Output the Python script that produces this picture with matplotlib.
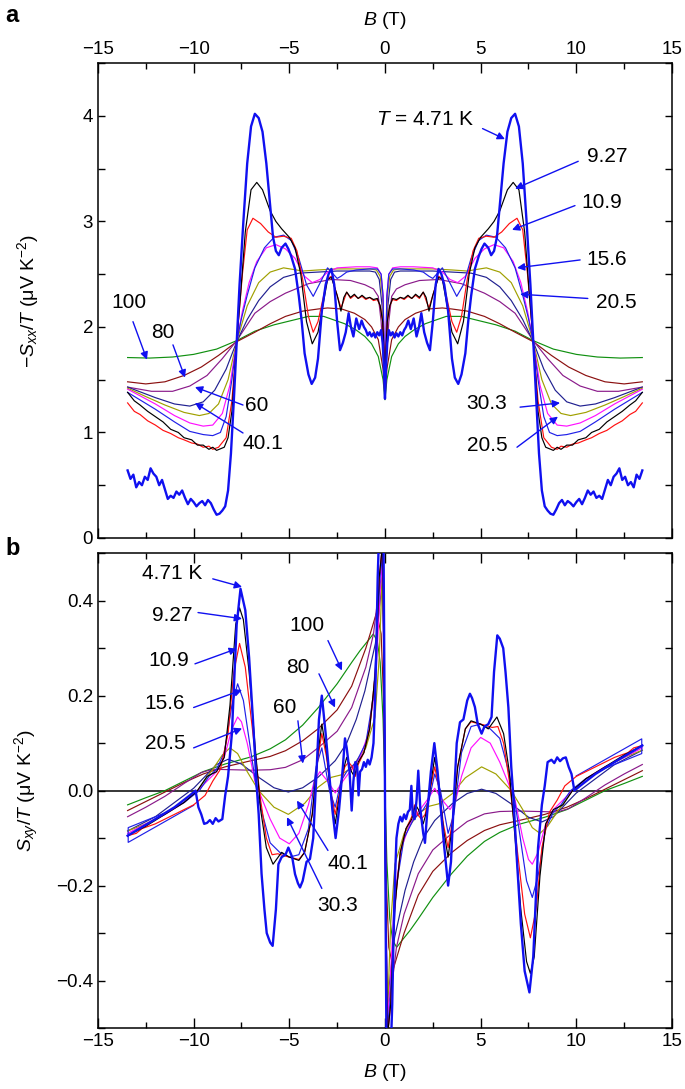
import numpy as np
import matplotlib
matplotlib.use('Agg')
import matplotlib.pyplot as plt
from matplotlib.ticker import MultipleLocator

plt.rcParams['font.family'] = ['Liberation Sans', 'DejaVu Sans']
plt.rcParams['mathtext.fontset'] = 'custom'
plt.rcParams['mathtext.rm'] = 'Liberation Sans'
plt.rcParams['mathtext.it'] = 'Liberation Sans:italic'
plt.rcParams['mathtext.bf'] = 'Liberation Sans:bold'

# ---------------- data: (B, value) for B >= 0 ----------------
# Panel a: -Sxx/T (symmetric in B)
sxx_100 = [(0, 1.31), (0.1, 1.5), (0.35, 1.72), (0.7, 1.84), (1.05, 1.91), (1.5, 1.97), (2.1, 2.03),
           (3.2, 2.10), (4.0, 2.10), (4.9, 2.06), (5.8, 2.02), (6.8, 1.96), (7.75, 1.87), (8.8, 1.79),
           (10, 1.74), (11.1, 1.715), (12.3, 1.705), (13.45, 1.71)]
sxx_80 = [(0, 1.33), (0.1, 1.6), (0.35, 1.88), (0.7, 2.0), (1.05, 2.07), (1.6, 2.13), (2.26, 2.17),
          (3.0, 2.18), (3.5, 2.17), (4.3, 2.15), (5.2, 2.10), (6.0, 2.03), (6.8, 1.95), (7.75, 1.86),
          (8.7, 1.73), (9.6, 1.62), (10.5, 1.54), (11.5, 1.48), (12.5, 1.46), (13.45, 1.48)]
sxx_60 = [(0, 1.33), (0.08, 1.7), (0.2, 2.05), (0.35, 2.29), (0.6, 2.36), (1.05, 2.40), (1.8, 2.44),
          (2.8, 2.45), (4.0, 2.41), (5.2, 2.32), (6.0, 2.24), (6.8, 2.13), (7.75, 1.87), (8.5, 1.70),
          (9.3, 1.54), (10.2, 1.44), (11.1, 1.39), (12.2, 1.39), (13.45, 1.43)]
sxx_40 = [(0, 1.33), (0.06, 1.75), (0.15, 2.2), (0.3, 2.45), (0.5, 2.52), (0.8, 2.53), (1.5, 2.53),
          (2.5, 2.53), (3.5, 2.52), (4.5, 2.51), (5.3, 2.47), (6.0, 2.38), (6.6, 2.25), (7.2, 2.07),
          (7.75, 1.86), (8.3, 1.60), (8.9, 1.40), (9.5, 1.29), (10.2, 1.25), (11, 1.27), (12, 1.33),
          (13.45, 1.43)]
sxx_30 = [(0, 1.33), (0.05, 1.8), (0.13, 2.3), (0.25, 2.48), (0.45, 2.54), (0.8, 2.55), (1.5, 2.55),
          (2.5, 2.55), (3.5, 2.54), (4.3, 2.53), (5.3, 2.56), (6.0, 2.52), (6.6, 2.42), (7.2, 2.2),
          (7.75, 1.86), (8.2, 1.5), (8.7, 1.27), (9.2, 1.18), (9.7, 1.16), (10.5, 1.19), (11.5, 1.26),
          (12.5, 1.34), (13.45, 1.42)]
sxx_20 = [(0, 1.32), (0.04, 1.8), (0.1, 2.3), (0.2, 2.5), (0.4, 2.56), (0.8, 2.57), (1.5, 2.57),
          (2.5, 2.56), (3.0, 2.52), (3.4, 2.45), (3.8, 2.42), (4.2, 2.48), (4.7, 2.65), (5.2, 2.74),
          (5.7, 2.78), (6.2, 2.75), (6.7, 2.62), (7.1, 2.42), (7.45, 2.15), (7.75, 1.86), (8.1, 1.45),
          (8.5, 1.18), (9.0, 1.07), (9.5, 1.06), (10.2, 1.09), (11, 1.16), (12, 1.27), (13.45, 1.41)]
sxx_15 = [(0, 1.32), (0.04, 1.8), (0.1, 2.3), (0.2, 2.5), (0.4, 2.55), (0.8, 2.55), (1.5, 2.54),
          (2.0, 2.52), (2.3, 2.48), (2.5, 2.46), (2.7, 2.5), (3.0, 2.56), (3.3, 2.45), (3.75, 2.29),
          (4.1, 2.4), (4.5, 2.65), (4.9, 2.82), (5.3, 2.87), (5.8, 2.85), (6.3, 2.75), (6.8, 2.56),
          (7.2, 2.3), (7.5, 2.08), (7.75, 1.86), (8.0, 1.5), (8.3, 1.15), (8.6, 1.0), (9.0, 0.97),
          (9.5, 0.98), (10.2, 1.01), (11, 1.1), (12, 1.22), (13.45, 1.38)]
sxx_10 = [(0, 1.32), (0.05, 1.75), (0.12, 2.05), (0.25, 2.2), (0.4, 2.26), (0.6, 2.25), (0.8, 2.28),
          (1.0, 2.26), (1.2, 2.29), (1.4, 2.27), (1.6, 2.30), (1.8, 2.27), (2.0, 2.33), (2.15, 2.25),
          (2.3, 2.18), (2.5, 2.3), (2.8, 2.48), (3.0, 2.46), (3.2, 2.3), (3.5, 2.05), (3.75, 1.95),
          (4.0, 2.1), (4.3, 2.45), (4.6, 2.72), (4.9, 2.84), (5.3, 2.86), (5.7, 2.85), (6.1, 2.9),
          (6.5, 2.98), (6.9, 3.03), (7.2, 2.92), (7.45, 2.5), (7.75, 1.86), (8.0, 1.3), (8.3, 0.95),
          (8.7, 0.86), (9.0, 0.84), (9.2, 0.87), (9.5, 0.86), (9.8, 0.89), (10.1, 0.9), (10.5, 0.93),
          (10.8, 0.95), (11.2, 0.99), (11.6, 1.02), (12, 1.07), (12.4, 1.11), (12.8, 1.17),
          (13.1, 1.2), (13.45, 1.28)]
sxx_9 = [(0, 1.32), (0.05, 1.75), (0.12, 2.05), (0.25, 2.2), (0.4, 2.27), (0.6, 2.26), (0.8, 2.28),
         (1.0, 2.27), (1.2, 2.3), (1.4, 2.27), (1.6, 2.31), (1.8, 2.28), (2.0, 2.33), (2.15, 2.28),
         (2.3, 2.15), (2.5, 2.3), (2.8, 2.47), (3.0, 2.45), (3.2, 2.25), (3.5, 1.95), (3.8, 1.84),
         (4.1, 2.05), (4.4, 2.5), (4.7, 2.75), (5.0, 2.85), (5.4, 2.93), (5.7, 3.0), (6.0, 3.1),
         (6.4, 3.3), (6.7, 3.37), (7.0, 3.3), (7.3, 2.9), (7.55, 2.3), (7.75, 1.86), (8.0, 1.2),
         (8.2, 0.95), (8.4, 0.86), (8.8, 0.83), (9.0, 0.86), (9.2, 0.84), (9.5, 0.88), (9.8, 0.88),
         (10.1, 0.93), (10.5, 0.95), (10.8, 1.0), (11.2, 1.03), (11.6, 1.1), (12, 1.15),
         (12.4, 1.2), (12.8, 1.26), (13.1, 1.3), (13.45, 1.38)]
sxx_4 = [(0, 1.32), (0.05, 1.6), (0.12, 1.85), (0.2, 1.97), (0.3, 1.92), (0.4, 1.95), (0.5, 1.90),
         (0.6, 1.94), (0.7, 1.91), (0.8, 1.95), (0.9, 1.92), (1.0, 1.97), (1.1, 2.0), (1.22, 2.06),
         (1.35, 1.98), (1.5, 2.08), (1.65, 1.91), (1.78, 2.0), (1.9, 2.13), (2.05, 1.95), (2.2, 1.85),
         (2.35, 1.78), (2.5, 2.05), (2.65, 2.4), (2.8, 2.55), (2.95, 2.5), (3.1, 2.4), (3.3, 2.15),
         (3.5, 1.7), (3.65, 1.52), (3.83, 1.46), (4.0, 1.55), (4.2, 1.75), (4.35, 2.05), (4.5, 2.29),
         (4.7, 2.55), (4.9, 2.67), (5.05, 2.74), (5.2, 2.79), (5.4, 2.75), (5.55, 2.68), (5.7, 2.72),
         (5.85, 2.85), (6.0, 3.15), (6.2, 3.55), (6.4, 3.85), (6.6, 3.98), (6.8, 4.02), (7.0, 3.9),
         (7.2, 3.55), (7.4, 3.0), (7.6, 2.4), (7.75, 1.86), (7.9, 1.3), (8.05, 0.8), (8.2, 0.45),
         (8.35, 0.3), (8.5, 0.26), (8.65, 0.23), (8.8, 0.22), (8.95, 0.27), (9.1, 0.33), (9.25, 0.36),
         (9.4, 0.31), (9.55, 0.35), (9.7, 0.33), (9.85, 0.30), (10.0, 0.34), (10.15, 0.37),
         (10.3, 0.32), (10.45, 0.38), (10.6, 0.45), (10.75, 0.41), (10.9, 0.44), (11.05, 0.38),
         (11.2, 0.40), (11.35, 0.37), (11.5, 0.46), (11.65, 0.55), (11.8, 0.50), (11.95, 0.58),
         (12.1, 0.61), (12.25, 0.66), (12.4, 0.55), (12.55, 0.58), (12.7, 0.50), (12.85, 0.53),
         (13.0, 0.48), (13.15, 0.60), (13.3, 0.56), (13.45, 0.64)]

# Panel b: Sxy/T (antisymmetric in B)
sxy_100 = [(0, 0), (0.1, -0.15), (0.25, -0.27), (0.4, -0.315), (0.61, -0.33), (0.9, -0.315),
           (1.3, -0.295), (1.74, -0.27), (2.5, -0.225), (3.48, -0.175), (4.3, -0.138), (5.2, -0.107),
           (6.0, -0.088), (7.0, -0.071), (8.36, -0.056), (9.5, -0.04), (10.5, -0.02), (11.5, 0.0),
           (12.5, 0.015), (13.45, 0.03)]
sxy_80 = [(0, 0), (0.08, -0.2), (0.2, -0.33), (0.44, -0.375), (0.7, -0.34), (1.0, -0.3), (1.74, -0.22),
          (2.5, -0.17), (3.5, -0.13), (4.3, -0.105), (5.2, -0.084), (6.0, -0.072), (7.0, -0.063),
          (8.36, -0.05), (9.5, -0.035), (10.5, -0.017), (11.5, 0.003), (12.5, 0.023), (13.45, 0.042)]
sxy_60 = [(0, 0), (0.05, -0.25), (0.15, -0.45), (0.3, -0.43), (0.6, -0.33), (1.0, -0.26),
          (1.74, -0.175), (2.5, -0.125), (3.5, -0.09), (4.3, -0.065), (5.2, -0.049), (6.0, -0.044),
          (7.0, -0.043), (8.0, -0.044), (9.0, -0.045), (9.6, -0.038), (10.5, -0.015), (11.5, 0.012),
          (12.5, 0.035), (13.45, 0.055)]
sxy_40 = [(0, 0), (0.04, -0.25), (0.12, -0.45), (0.25, -0.4), (0.5, -0.31), (1.05, -0.21),
          (1.5, -0.15), (2.0, -0.1), (2.6, -0.063), (3.5, -0.028), (4.3, -0.006), (5.05, 0.003),
          (5.8, -0.006), (6.6, -0.028), (7.5, -0.056), (8.2, -0.066), (8.8, -0.055), (9.4, -0.03),
          (10.0, -0.005), (11, 0.025), (12, 0.055), (13.45, 0.085)]
sxy_30 = [(0, 0), (0.06, -0.35), (0.15, -0.45), (0.3, -0.28), (0.52, -0.155), (1.0, -0.09),
          (1.74, -0.049), (2.3, -0.033), (2.8, -0.028), (3.5, -0.007), (4.2, 0.027), (5.05, 0.05),
          (5.8, 0.035), (6.6, 0.0), (7.2, -0.04), (7.7, -0.078), (8.1, -0.09), (8.5, -0.075),
          (9.0, -0.045), (9.8, 0.0), (10.5, 0.025), (11.5, 0.05), (12.5, 0.07), (13.45, 0.085)]
sxy_20 = [(0, 0), (0.05, -0.35), (0.1, -0.5), (0.25, -0.42), (0.5, -0.22), (0.87, -0.12),
          (1.3, -0.07), (1.74, -0.045), (2.2, -0.02), (2.6, 0.005), (3.0, -0.02), (3.4, -0.04),
          (3.7, -0.02), (4.0, 0.03), (4.5, 0.09), (5.0, 0.112), (5.5, 0.1), (6.0, 0.06), (6.5, 0.01),
          (6.8, -0.02), (7.2, -0.1), (7.5, -0.145), (7.7, -0.155), (8.0, -0.13), (8.4, -0.07),
          (8.8, -0.04), (9.3, -0.02), (9.8, 0.0), (10.5, 0.025), (11.5, 0.05), (12.5, 0.07),
          (13.45, 0.09)]
sxy_15 = [(0, 0), (0.08, -0.4), (0.18, -0.5), (0.35, -0.38), (0.6, -0.2), (1.0, -0.1), (1.5, -0.06),
          (2.0, -0.04), (2.3, -0.02), (2.6, 0.035), (2.9, 0.0), (3.3, -0.09), (3.6, -0.05),
          (4.0, 0.08), (4.5, 0.135), (5.0, 0.14), (5.5, 0.13), (6.0, 0.11), (6.4, 0.05), (6.7, 0.0),
          (7.0, -0.08), (7.4, -0.19), (7.7, -0.225), (8.0, -0.18), (8.4, -0.08), (8.8, -0.045),
          (9.2, -0.03), (9.7, 0.0), (10.5, 0.025), (11.5, 0.047), (12.5, 0.063), (13.42, 0.078),
          (13.42, 0.109), (10.0, 0.031)]
sxy_10 = [(0, 0), (0.05, -0.3), (0.12, -0.52), (0.3, -0.45), (0.5, -0.25), (0.8, -0.13),
          (1.1, -0.08), (1.4, -0.055), (1.55, -0.03), (1.7, -0.05), (1.9, -0.06), (2.1, -0.05),
          (2.3, -0.01), (2.6, 0.05), (2.85, 0.0), (3.05, -0.07), (3.3, -0.12), (3.5, -0.07),
          (3.8, 0.05), (4.2, 0.13), (4.5, 0.145), (5.0, 0.14), (5.3, 0.137), (5.6, 0.133),
          (5.9, 0.135), (6.2, 0.1), (6.5, 0.02), (6.9, -0.12), (7.3, -0.26), (7.6, -0.31),
          (7.9, -0.25), (8.2, -0.12), (8.6, -0.045), (9.0, -0.02), (9.4, 0.01), (10, 0.03),
          (11, 0.05), (12, 0.07), (12.7, 0.08), (13.0, 0.09), (13.45, 0.095)]
sxy_9 = [(0, 0), (0.05, -0.3), (0.12, -0.52), (0.3, -0.45), (0.5, -0.25), (0.8, -0.13), (1.1, -0.08),
         (1.4, -0.06), (1.6, -0.03), (1.75, -0.04), (2.0, -0.07), (2.2, -0.04), (2.45, 0.03),
         (2.6, 0.07), (2.8, 0.02), (3.05, -0.08), (3.3, -0.14), (3.5, -0.08), (3.8, 0.05),
         (4.2, 0.13), (4.5, 0.147), (5.0, 0.14), (5.4, 0.13), (5.85, 0.155), (6.2, 0.12),
         (6.5, 0.04), (6.8, -0.1), (7.1, -0.25), (7.4, -0.36), (7.6, -0.385), (7.8, -0.35),
         (8.1, -0.18), (8.4, -0.07), (8.8, -0.04), (9.3, -0.03), (9.8, 0.0), (10.5, 0.025),
         (11.5, 0.05), (12.5, 0.075), (13.45, 0.095)]
sxy_4 = [(0, 0), (0.04, -0.3), (0.08, -0.55), (0.3, -0.55), (0.38, -0.45), (0.45, -0.3), (0.52, -0.19),
         (0.6, -0.1), (0.7, -0.07), (0.8, -0.055), (0.9, -0.065), (1.0, -0.05), (1.1, -0.06),
         (1.2, -0.045), (1.3, -0.04), (1.38, 0.01), (1.45, -0.05), (1.55, -0.06), (1.65, -0.02),
         (1.74, 0.042), (1.85, -0.04), (2.0, -0.09), (2.09, -0.11), (2.2, -0.05), (2.4, 0.04),
         (2.58, 0.10), (2.75, 0.04), (2.9, -0.03), (3.1, -0.12), (3.3, -0.2), (3.45, -0.15),
         (3.6, -0.02), (3.75, 0.1), (3.92, 0.144), (4.1, 0.15), (4.3, 0.19), (4.44, 0.204),
         (4.55, 0.195), (4.7, 0.176), (4.85, 0.14), (5.05, 0.12), (5.2, 0.135), (5.4, 0.14),
         (5.57, 0.155), (5.7, 0.25), (5.87, 0.327), (6.0, 0.32), (6.18, 0.30), (6.3, 0.25),
         (6.45, 0.175), (6.6, 0.05), (6.7, -0.007), (6.9, -0.15), (7.1, -0.28), (7.3, -0.38),
         (7.55, -0.425), (7.75, -0.35), (8.0, -0.12), (8.2, -0.03), (8.35, 0.01), (8.5, 0.06),
         (8.7, 0.065), (8.85, 0.058), (9.0, 0.07), (9.15, 0.062), (9.3, 0.068), (9.45, 0.07),
         (9.6, 0.05), (9.75, 0.035), (9.9, 0.0), (10.2, 0.01), (11, 0.035), (12, 0.06),
         (13.45, 0.095)]

temps = ['4.71', '9.27', '10.9', '15.6', '20.5', '30.3', '40.1', '60', '80', '100']
sxx_data = [sxx_4, sxx_9, sxx_10, sxx_15, sxx_20, sxx_30, sxx_40, sxx_60, sxx_80, sxx_100]
sxy_data = [sxy_4, sxy_9, sxy_10, sxy_15, sxy_20, sxy_30, sxy_40, sxy_60, sxy_80, sxy_100]
colors = ['#1010f0', 'black', '#ff1010', '#2020e8', '#ff10ff', '#a0a000', '#202090', '#8a1a8a',
          '#8b1010', '#109010']
widths = [1.7, 0.85, 0.85, 0.85, 0.85, 0.85, 0.85, 0.85, 0.85, 0.85]


def mirror(pts, sign):
    B = np.array([p[0] for p in pts], dtype=float)
    v = np.array([p[1] for p in pts], dtype=float)
    Bn = -B[::-1]
    vn = sign * v[::-1]
    if B[0] == 0:
        Bn, vn = Bn[:-1], vn[:-1]
    return np.concatenate([Bn, B]), np.concatenate([vn, v])


fig = plt.figure(figsize=(6.85, 10.89), dpi=100)
axa = fig.add_axes([0.143, 0.506, 0.838, 0.436])
axb = fig.add_axes([0.143, 0.056, 0.838, 0.436])

for i in range(len(temps) - 1, -1, -1):
    x, y = mirror(sxx_data[i], 1)
    axa.plot(x, y, color=colors[i], lw=widths[i], zorder=3 + (10 - i) * 0.1)
    x, y = mirror(sxy_data[i], -1)
    axb.plot(x, y, color=colors[i], lw=widths[i], zorder=3 + (10 - i) * 0.1)

axb.axhline(0, color='black', lw=1.1, zorder=2)

for ax in (axa, axb):
    ax.set_xlim(-15, 15)
    ax.xaxis.set_major_locator(MultipleLocator(5))
    ax.xaxis.set_minor_locator(MultipleLocator(2.5))
    for s in ax.spines.values():
        s.set_linewidth(1.1)
    ax.tick_params(which='both', direction='in', top=True, right=True, labelsize=13.5, width=1.0)
    ax.tick_params(axis='x', which='major', length=7)
    ax.tick_params(axis='x', which='minor', length=4.5)
    ax.tick_params(axis='y', which='both', length=5)

axa.set_ylim(0, 4.5)
axa.yaxis.set_major_locator(MultipleLocator(1))
axa.yaxis.set_minor_locator(MultipleLocator(0.5))
axa.tick_params(labeltop=True, labelbottom=False)
axa.xaxis.set_label_position('top')
axa.set_xlabel('$B$ (T)', fontsize=14, labelpad=12)
axa.set_ylabel('$-S_{xx}/T$ (μV K$^{-2}$)', fontsize=14)
axa.yaxis.set_label_coords(-0.10, 0.5)

axb.set_ylim(-0.5, 0.5)
axb.yaxis.set_major_locator(MultipleLocator(0.2))
axb.yaxis.set_minor_locator(MultipleLocator(0.1))
axb.yaxis.set_major_formatter(plt.FuncFormatter(lambda v, p: ('%.1f' % v).replace('-', '\u2212')))
axb.set_xlabel('$B$ (T)', fontsize=14, labelpad=9)
axb.set_ylabel('$S_{xy}/T$ (μV K$^{-2}$)', fontsize=14)
axb.yaxis.set_label_coords(-0.10, 0.5)

arrow = dict(arrowstyle='-|>', color='#1010f0', lw=1.0, mutation_scale=11, shrinkA=0, shrinkB=0)

# panel a annotations: (text, text_xy, arrow_start, arrow_end)
ann_a = [
    ('$T$ = 4.71 K', (2.1, 3.97), (5.1, 3.88), (6.27, 3.78)),
    ('9.27', (11.6, 3.62), (10.1, 3.57), (6.8, 3.31)),
    ('10.9', (11.35, 3.175), (9.93, 3.15), (6.64, 2.92)),
    ('15.6', (11.6, 2.635), (10.2, 2.635), (6.9, 2.56)),
    ('20.5', (12.1, 2.23), (10.6, 2.27), (7.06, 2.31)),
    ('30.3', (5.33, 1.27), (7.06, 1.24), (9.15, 1.28)),
    ('20.5', (5.33, 0.88), (6.9, 0.86), (9.04, 1.15)),
    ('100', (-13.4, 2.23), (-13.17, 2.05), (-12.44, 1.69)),
    ('80', (-11.6, 1.95), (-11.08, 1.83), (-10.45, 1.52)),
    ('60', (-6.7, 1.26), (-7.42, 1.26), (-9.93, 1.43)),
    ('40.1', (-6.4, 0.9), (-7.42, 0.995), (-9.93, 1.28)),
]
for t, pt, a0, a1 in ann_a:
    axa.text(pt[0], pt[1], t, ha='center', va='center', fontsize=15, zorder=6)
    axa.annotate('', xy=a1, xytext=a0, arrowprops=arrow, zorder=6)

ann_b = [
    ('4.71 K', (-11.1, 0.457), (-9.0, 0.446), (-7.47, 0.429)),
    ('9.27', (-11.1, 0.368), (-9.77, 0.375), (-7.47, 0.362)),
    ('10.9', (-11.3, 0.274), (-9.93, 0.267), (-7.74, 0.299)),
    ('15.6', (-11.5, 0.183), (-10.0, 0.175), (-7.47, 0.212)),
    ('20.5', (-11.5, 0.099), (-10.0, 0.09), (-7.47, 0.131)),
    ('100', (-4.08, 0.347), (-2.98, 0.316), (-2.25, 0.253)),
    ('80', (-4.55, 0.259), (-3.45, 0.246), (-2.61, 0.175)),
    ('60', (-5.23, 0.175), (-4.55, 0.147), (-4.29, 0.057)),
    ('40.1', (-1.93, -0.154), (-2.98, -0.126), (-4.6, -0.021)),
    ('30.3', (-2.5, -0.242), (-3.3, -0.206), (-5.12, -0.056)),
]
for t, pt, a0, a1 in ann_b:
    axb.text(pt[0], pt[1], t, ha='center', va='center', fontsize=15, zorder=6)
    axb.annotate('', xy=a1, xytext=a0, arrowprops=arrow, zorder=6)

fig.text(0.018, 0.986, 'a', fontsize=17, fontweight='bold', ha='center', va='center')
fig.text(0.018, 0.496, 'b', fontsize=17, fontweight='bold', ha='center', va='center')

fig.savefig('out.png', dpi=100)
